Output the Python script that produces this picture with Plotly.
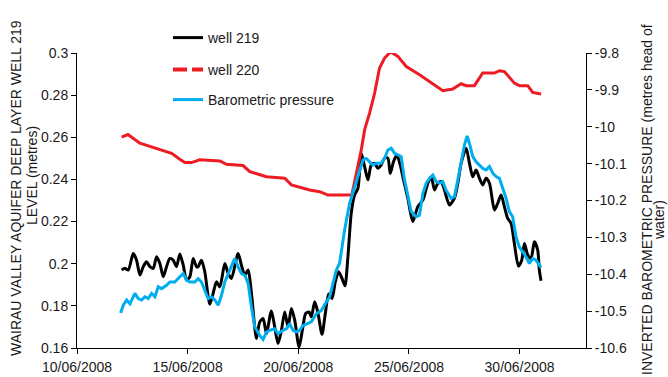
import pandas as pd
import plotly.graph_objects as go

# Time axis: hours since 10/06/2008 00:00
START = pd.Timestamp("2008-06-10")

# Well 219 groundwater level (metres)
w219_hours = [48.4, 52.0, 55.6, 61.0, 64.6, 68.2, 71.8, 75.4, 79.1, 82.7,
              86.3, 89.9, 93.5, 97.1, 100.7, 104.3, 107.9, 111.5, 115.2, 118.8,
              122.4, 126.0, 129.6, 131.4, 135.0, 138.6, 144.0, 147.6, 151.3, 154.9,
              160.3, 163.9, 167.5, 174.7, 178.3, 182.0, 185.6, 189.2, 194.6, 198.2,
              201.8, 205.4, 210.8, 214.4, 218.0, 221.7, 225.3, 228.9, 232.5, 236.1,
              240.8, 244.4, 248.0, 251.6, 254.1, 257.8, 261.4, 265.7, 269.3, 272.9,
              276.5, 280.1, 283.7, 287.4, 290.6, 293.8, 297.4, 301.0, 304.7, 308.3,
              311.9, 315.5, 319.1, 322.7, 326.3, 329.9, 333.5, 337.1, 339.7, 343.3,
              346.9, 350.5, 354.1, 358.8, 364.2, 369.6, 375.1, 380.5, 384.1, 387.7,
              391.3, 394.9, 398.5, 403.9, 409.3, 413.0, 416.6, 422.0, 425.6, 429.2,
              432.8, 436.4, 440.0, 443.6, 447.3, 452.7, 456.3, 459.9, 463.5, 467.1,
              470.7, 474.3, 478.7, 482.3, 485.2, 488.8, 492.4, 496.0, 499.6, 501.4,
              503.2]
w219_level = [0.1970, 0.1978, 0.1970, 0.2049, 0.2017, 0.1946, 0.1986, 0.2009, 0.1986, 0.1978,
              0.2033, 0.2001, 0.1938, 0.1986, 0.2025, 0.2017, 0.1986, 0.2046, 0.1993, 0.1922,
              0.1938, 0.2025, 0.1986, 0.1986, 0.2017, 0.1962, 0.1808, 0.1859, 0.1914, 0.1890,
              0.2001, 0.1954, 0.1930, 0.2049, 0.1993, 0.1946, 0.1970, 0.1859, 0.1645, 0.1724,
              0.1740, 0.1669, 0.1776, 0.1700, 0.1621, 0.1684, 0.1771, 0.1700, 0.1787, 0.1732,
              0.1605, 0.1684, 0.1764, 0.1771, 0.1748, 0.1819, 0.1764, 0.1665, 0.1764, 0.1856,
              0.1835, 0.1914, 0.1962, 0.1930, 0.1895, 0.2033, 0.2239, 0.2326, 0.2358, 0.2524,
              0.2461, 0.2398, 0.2469, 0.2477, 0.2453, 0.2469, 0.2501, 0.2501, 0.2429, 0.2485,
              0.2516, 0.2469, 0.2398, 0.2310, 0.2200, 0.2271, 0.2302, 0.2382, 0.2413, 0.2350,
              0.2382, 0.2390, 0.2350, 0.2279, 0.2311, 0.2382, 0.2477, 0.2548, 0.2477, 0.2413,
              0.2445, 0.2406, 0.2374, 0.2406, 0.2382, 0.2255, 0.2287, 0.2326, 0.2271, 0.2215,
              0.2192, 0.2096, 0.1989, 0.2017, 0.2096, 0.2041, 0.2025, 0.2104, 0.2065, 0.1970,
              0.1919]

# Well 220 groundwater level (metres)
w220_hours = [48.4, 55.2, 68.2, 79.1, 89.9, 102.6, 111.5, 117.0, 124.2, 133.2,
              154.9, 162.1, 180.1, 187.4, 205.4, 225.3, 232.5, 252.3, 263.2, 272.2,
              298.0, 303.4, 308.3, 311.9, 317.3, 322.8, 328.1, 333.6, 340.0, 348.0,
              357.1, 371.5, 382.3, 396.7, 407.5, 416.6, 422.0, 431.0, 440.0, 452.7,
              458.1, 463.5, 474.4, 479.8, 488.8, 494.2, 503.3]
w220_level = [0.2601, 0.2613, 0.2572, 0.2556, 0.2540, 0.2524, 0.2496, 0.2480, 0.2480, 0.2493,
              0.2488, 0.2472, 0.2466, 0.2437, 0.2413, 0.2406, 0.2374, 0.2350, 0.2342, 0.2326,
              0.2326, 0.2440, 0.2540, 0.2635, 0.2715, 0.2810, 0.2929, 0.2976, 0.3006, 0.2984,
              0.2936, 0.2897, 0.2865, 0.2821, 0.2829, 0.2854, 0.2845, 0.2845, 0.2905, 0.2905,
              0.2916, 0.2912, 0.2857, 0.2845, 0.2845, 0.2813, 0.2805]

# Inverted barometric pressure (metres head of water)
baro_hours = [47.3, 50.2, 53.8, 57.4, 62.8, 66.4, 70.0, 73.6, 77.3, 80.9,
              84.5, 88.1, 91.7, 97.1, 100.7, 106.1, 111.5, 115.2, 118.8, 122.4,
              127.8, 131.4, 135.0, 138.6, 142.2, 145.8, 149.5, 153.1, 156.7, 160.3,
              165.7, 171.1, 174.7, 178.3, 182.0, 185.6, 189.2, 192.8, 198.2, 201.8,
              205.4, 209.0, 214.4, 218.0, 223.5, 227.1, 230.7, 234.3, 237.9, 241.5,
              245.1, 250.5, 254.1, 259.6, 265.0, 270.4, 274.0, 277.6, 281.2,
              284.8, 290.2, 295.6, 301.0, 306.5, 310.1, 313.7, 317.3, 320.9, 324.5,
              329.9, 333.5, 337.1, 340.8, 344.4, 348.0, 351.6, 355.2, 358.8, 362.4,
              367.8, 371.4, 375.1, 378.7, 382.3, 385.9, 389.5, 393.1, 396.7, 400.3,
              405.7, 409.3, 413.0, 416.6, 420.2, 423.1, 425.6, 429.2, 432.8, 436.4,
              440.0, 443.6, 447.3, 450.9, 454.5, 458.1, 461.7, 465.3, 468.9, 472.5,
              476.1, 479.7, 483.4, 487.0, 490.6, 494.2, 497.8, 501.4, 503.2]
baro_head = [-10.505, -10.484, -10.470, -10.480, -10.452, -10.466, -10.470, -10.461, -10.466, -10.452,
             -10.461, -10.434, -10.439, -10.430, -10.421, -10.421, -10.407, -10.398, -10.416, -10.421,
             -10.421, -10.412, -10.421, -10.443, -10.466, -10.461, -10.470, -10.484, -10.457, -10.421,
             -10.389, -10.357, -10.380, -10.398, -10.403, -10.425, -10.489, -10.543, -10.566, -10.577,
             -10.557, -10.552, -10.548, -10.561, -10.552, -10.548, -10.534, -10.552, -10.557, -10.552,
             -10.539, -10.534, -10.529, -10.507, -10.498, -10.475, -10.461, -10.425, -10.389,
             -10.370, -10.280, -10.208, -10.163, -10.117, -10.090, -10.086, -10.095, -10.104, -10.099,
             -10.099, -10.086, -10.063, -10.058, -10.072, -10.076, -10.081, -10.144, -10.190, -10.230,
             -10.244, -10.240, -10.181, -10.153, -10.140, -10.131, -10.149, -10.153, -10.149, -10.172,
             -10.194, -10.190, -10.144, -10.095, -10.049, -10.025, -10.045, -10.081, -10.095, -10.104,
             -10.113, -10.117, -10.108, -10.126, -10.135, -10.140, -10.167, -10.194, -10.230, -10.244,
             -10.298, -10.326, -10.339, -10.353, -10.371, -10.357, -10.362, -10.375, -10.382]

# Axis ticks
x_tick_dates = ["2008-06-10", "2008-06-15", "2008-06-20", "2008-06-25", "2008-06-30"]
x_tick_text = ["10/06/2008", "15/06/2008", "20/06/2008", "25/06/2008", "30/06/2008"]
y_tick_vals = [0.16, 0.18, 0.20, 0.22, 0.24, 0.26, 0.28, 0.30]
y_tick_text = ["0.16", "0.18", "0.2", "0.22", "0.24", "0.26", "0.28", "0.3"]
y2_tick_vals = [-10.6, -10.5, -10.4, -10.3, -10.2, -10.1, -10.0, -9.9, -9.8]
y2_tick_text = ["-10.6", "-10.5", "-10.4", "-10.3", "-10.2", "-10.1", "-10", "-9.9", "-9.8"]

# Axis title lines
left_title = ["WAIRAU VALLEY AQUIFER DEEP LAYER WELL 219", "LEVEL (metres)"]
right_title = ["INVERTED BAROMETRIC PRESSURE (metres head of", "water)"]

BLACK = "#000000"
RED = "#ED1C24"
BLUE = "#00AEEF"
FONT = "Liberation Sans, Arial, sans-serif"
TEXT = "#1a1a1a"


def to_time(hours):
    return START + pd.to_timedelta(hours, unit="h")


fig = go.Figure()

fig.add_trace(go.Scatter(
    x=to_time(w219_hours), y=w219_level, mode="lines", name="well 219",
    line=dict(color=BLACK, width=3, shape="spline", smoothing=0.7),
    legend="legend",
))
fig.add_trace(go.Scatter(
    x=to_time(w220_hours), y=w220_level, mode="lines", name="well 220",
    line=dict(color=RED, width=3), showlegend=False,
))
# legend entry for well 220 (dashed key)
fig.add_trace(go.Scatter(
    x=[None], y=[None], mode="lines", name="well 220",
    line=dict(color=RED, width=4, dash="14px,5px"), legend="legend2",
))
fig.add_trace(go.Scatter(
    x=to_time(baro_hours), y=baro_head, mode="lines", name="Barometric pressure",
    line=dict(color=BLUE, width=3), yaxis="y2", legend="legend3",
))

PLOT_L, PLOT_R, PLOT_T, PLOT_B = 77, 586, 53, 348
W, H = 668, 377


def px_x(x):
    return (x - PLOT_L) / (PLOT_R - PLOT_L)


def px_y(y):
    return (PLOT_B - y) / (PLOT_B - PLOT_T)


legend_common = dict(
    xanchor="left", yanchor="middle", bgcolor="rgba(0,0,0,0)",
    font=dict(family=FONT, size=14, color=TEXT), itemwidth=30,
)

axis_common = dict(
    showline=True, linecolor="#000", linewidth=1, ticks="outside", ticklen=5,
    tickcolor="#000", tickwidth=1, showgrid=False, zeroline=False,
    tickfont=dict(family=FONT, size=14, color=TEXT), automargin=False,
)


def title_line(text, xpix, ypix):
    return dict(
        text=text, xref="paper", yref="paper", x=px_x(xpix), y=px_y(ypix),
        xanchor="center", yanchor="middle", textangle=-90, showarrow=False,
        font=dict(family=FONT, size=14, color=TEXT),
    )


fig.update_layout(
    width=W, height=H,
    margin=dict(l=PLOT_L, r=W - PLOT_R, t=PLOT_T, b=H - PLOT_B, pad=0),
    paper_bgcolor="white", plot_bgcolor="white",
    font=dict(family=FONT, size=14, color=TEXT),
    xaxis=dict(
        type="date",
        range=[START, START + pd.Timedelta(days=23)],
        tickmode="array", tickvals=x_tick_dates, ticktext=x_tick_text,
        ticklabelstandoff=1,
        **axis_common,
    ),
    yaxis=dict(
        range=[0.16, 0.30], tickmode="array",
        tickvals=y_tick_vals, ticktext=y_tick_text, **axis_common,
    ),
    yaxis2=dict(
        range=[-10.6, -9.8], overlaying="y", side="right", tickmode="array",
        tickvals=y2_tick_vals, ticktext=y2_tick_text, **axis_common,
    ),
    legend=dict(x=px_x(168), y=px_y(38), **legend_common),
    legend2=dict(x=px_x(168), y=px_y(70), **legend_common),
    legend3=dict(x=px_x(168), y=px_y(100), **legend_common),
    showlegend=True,
    annotations=[
        title_line(left_title[0], 16, 188),
        title_line(left_title[1], 32, 176),
        title_line(right_title[0], 647, 200),
        title_line(right_title[1], 659, 220),
    ],
)

fig.write_html("out.html")
